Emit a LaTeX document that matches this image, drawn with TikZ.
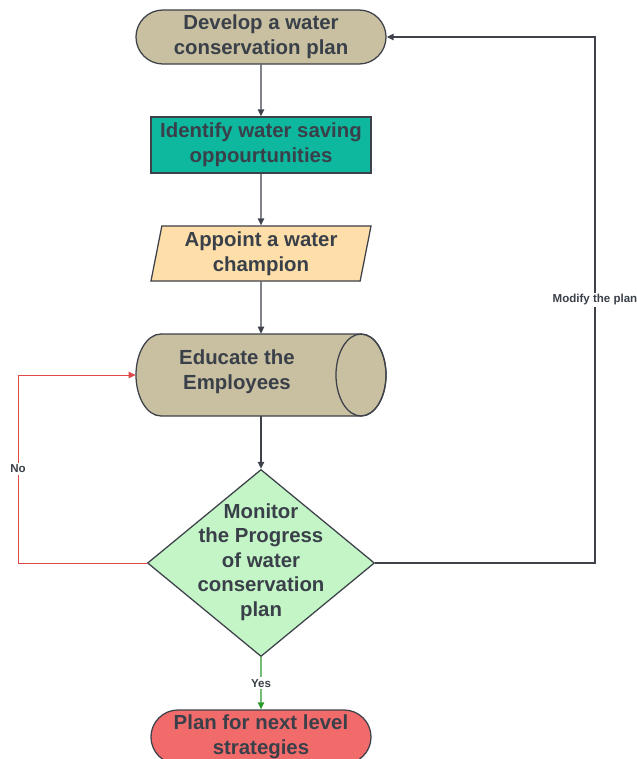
\documentclass[tikz,border=0pt]{standalone}
\usepackage{fontspec}
\setmainfont{Liberation Sans}
\usetikzlibrary{shapes.geometric, shapes.misc, arrows.meta}

\definecolor{tanfill}{HTML}{C9C0A1}
\definecolor{tealfill}{HTML}{0DB89E}
\definecolor{orangefill}{HTML}{FFDFA9}
\definecolor{greenfill}{HTML}{C4F5C6}
\definecolor{redfill}{HTML}{F26B6B}
\definecolor{textgray}{HTML}{3A4049}
\definecolor{linegray}{HTML}{3C414A}
\definecolor{nored}{HTML}{E04848}
\definecolor{yesgreen}{HTML}{2A9A2A}

\begin{document}
\begin{tikzpicture}[x=0.025cm, y=-0.025cm, >={Triangle[length=5pt, width=4.5pt]},
    shapebox/.style={draw=linegray, line width=0.9pt, inner sep=0pt},
    boxtext/.style={font=\fontsize{14.5}{17.5}\selectfont\bfseries, text=textgray, align=center},
    link/.style={->, draw=linegray, line width=1pt},
    lbl/.style={fill=white, font=\fontsize{8.2}{10}\selectfont\bfseries, text=textgray, inner sep=1.5pt}]
    \useasboundingbox (0,0) rectangle (637,759);

    % main column
    \node[shapebox, boxtext, rounded rectangle, fill=tanfill, minimum width=6.25cm, minimum height=1.35cm] (develop) at (261,37) {Develop a water\\conservation plan};
    \node[shapebox, boxtext, rectangle, fill=tealfill, minimum width=5.5cm, minimum height=1.4cm] (identify) at (261,145) {Identify water saving\\oppourtunities};
    \node[shapebox, boxtext, trapezium, trapezium left angle=76, trapezium right angle=104, trapezium stretches body, fill=orangefill, minimum width=5.5cm, minimum height=1.375cm] (appoint) at (261,253.5) {Appoint a water\\champion};

    % cylinder, lying on its side
    \node[inner sep=0pt, minimum width=6.25cm, minimum height=2.05cm] (educate) at (261,375) {};
    \filldraw[draw=linegray, fill=tanfill, line width=0.9pt] (161,334) -- (361,334) arc (90:-90:0.625cm and 1.025cm) -- (161,416) arc (270:90:0.625cm and 1.025cm) -- cycle;
    \draw[draw=linegray, line width=0.9pt] (361,375) ellipse (0.625cm and 1.025cm);
    \node[boxtext] (educatetext) at (237,372) {Educate the\\Employees};

    \node[shapebox, diamond, fill=greenfill, minimum width=5.675cm, minimum height=4.675cm] (monitor) at (261,563) {};
    \node[boxtext] (monitortext) at (261,562) {Monitor\\the Progress\\of water\\conservation\\plan};
    \node[shapebox, boxtext, rounded rectangle, fill=redfill, minimum width=5.5cm, minimum height=1.35cm] (nextlevel) at (261,737) {Plan for next level\\strategies};

    \draw[link] (develop) -- (identify);
    \draw[link] (identify) -- (appoint);
    \draw[link] (appoint) -- (educate);
    \draw[link] (educate) -- (monitor);
    \draw[link, draw=yesgreen] (monitor) -- node[lbl] {Yes} (nextlevel);

    % loops back
    \coordinate (nocorner) at (18,563);
    \coordinate (modcorner) at (595,563);
    \draw[link, draw=nored, line width=0.7pt] (monitor.west) -- (nocorner) |- node[lbl, pos=0.25] {No} (educate.west);
    \draw[link] (monitor.east) -- (modcorner) |- node[lbl, pos=0.25] {Modify the plan} (develop.east);
\end{tikzpicture}
\end{document}
